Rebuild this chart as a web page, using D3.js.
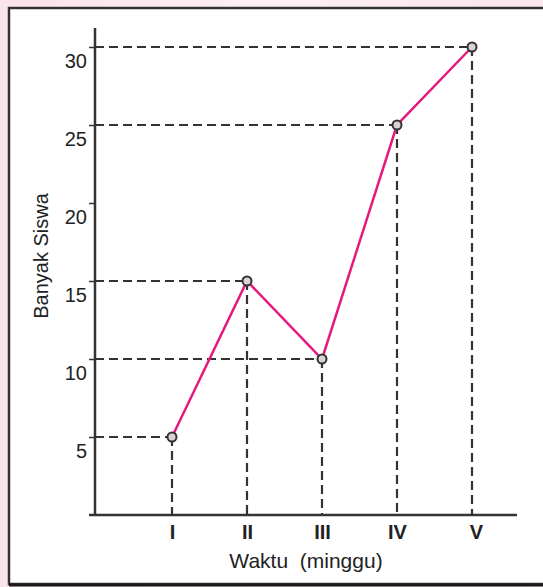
<!doctype html>
<html>
<head>
<meta charset="UTF-8">
<title>Banyak Siswa</title>
<script src="https://d3js.org/d3.v7.min.js"></script>
<style>
  body { margin: 0; background: #fbe8ef; }
  svg { display: block; }
  .axis text { font-family: "Liberation Sans", Arial, sans-serif; fill: #222; }
</style>
</head>
<body>
<svg id="chart" width="543" height="587"></svg>
<script>
// data
var weeks = ["I", "II", "III", "IV", "V"];
var students = [5, 15, 10, 25, 30];
var yTicks = [5, 10, 15, 20, 25, 30];

var svg = d3.select("#chart");

// pink page background with a soft gradient
var defs = svg.append("defs");
var grad = defs.append("linearGradient").attr("id", "bg").attr("x1", 0).attr("x2", 1);
grad.append("stop").attr("offset", "0%").attr("stop-color", "#fbe3ec");
grad.append("stop").attr("offset", "50%").attr("stop-color", "#fdf0f4");
grad.append("stop").attr("offset", "100%").attr("stop-color", "#fbe6ee");
svg.append("rect").attr("width", 543).attr("height", 587).attr("fill", "url(#bg)");

// white frame, right side runs off the picture
svg.append("rect")
    .attr("x", 9).attr("y", 8)
    .attr("width", 560).attr("height", 576)
    .attr("fill", "#fff")
    .attr("stroke", "#333")
    .attr("stroke-width", 2.5);
svg.append("line")
    .attr("x1", 9).attr("x2", 543)
    .attr("y1", 585).attr("y2", 585)
    .attr("stroke", "#1a1a1a").attr("stroke-width", 3);

var x = d3.scalePoint().domain(weeks).range([172, 472]);
var y = d3.scaleLinear().domain([0, 30]).range([515, 47]);
var x0 = 95;

var data = weeks.map(function (w, i) { return { week: w, value: students[i] }; });

// dashed guide lines
var guides = svg.append("g")
    .attr("stroke", "#333")
    .attr("stroke-width", 2.2)
    .attr("stroke-dasharray", "9,5")
    .attr("fill", "none");

guides.selectAll(".h")
    .data(data)
    .enter().append("line")
    .attr("x1", x0)
    .attr("x2", function (d) { return x(d.week); })
    .attr("y1", function (d) { return y(d.value); })
    .attr("y2", function (d) { return y(d.value); });

guides.selectAll(".v")
    .data(data)
    .enter().append("line")
    .attr("x1", function (d) { return x(d.week); })
    .attr("x2", function (d) { return x(d.week); })
    .attr("y1", function (d) { return y(d.value); })
    .attr("y2", y(0));

// y axis
var yAxis = svg.append("g")
    .attr("class", "axis")
    .attr("transform", "translate(" + x0 + ",0)")
    .call(d3.axisLeft(y).tickValues(yTicks).tickSize(6).tickPadding(2));
yAxis.select(".domain").remove();
yAxis.selectAll(".tick line").attr("stroke", "#333").attr("stroke-width", 1.5);
yAxis.selectAll(".tick text")
    .attr("font-size", 20)
    .attr("dy", "1.0em");
svg.append("line")
    .attr("x1", x0).attr("x2", x0)
    .attr("y1", 28).attr("y2", y(0) + 1)
    .attr("stroke", "#333").attr("stroke-width", 2.5);

// x axis
var xAxis = svg.append("g")
    .attr("class", "axis")
    .attr("transform", "translate(0," + y(0) + ")")
    .call(d3.axisBottom(x).tickSize(0).tickPadding(10));
xAxis.select(".domain").remove();
xAxis.selectAll(".tick text")
    .attr("font-size", 20)
    .attr("font-weight", "bold")
    .attr("dx", function (d) { return d === "V" ? 4 : 0; });
svg.append("line")
    .attr("x1", 89).attr("x2", 517)
    .attr("y1", y(0)).attr("y2", y(0))
    .attr("stroke", "#333").attr("stroke-width", 2.5);

// series line
var line = d3.line()
    .x(function (d) { return x(d.week); })
    .y(function (d) { return y(d.value); });

svg.append("path")
    .datum(data)
    .attr("d", line)
    .attr("fill", "none")
    .attr("stroke", "#e5197e")
    .attr("stroke-width", 2.5);

svg.selectAll(".pt")
    .data(data)
    .enter().append("circle")
    .attr("cx", function (d) { return x(d.week); })
    .attr("cy", function (d) { return y(d.value); })
    .attr("r", 4.5)
    .attr("fill", "#dcd2d6")
    .attr("stroke", "#333")
    .attr("stroke-width", 2);

// axis titles
svg.append("text")
    .attr("x", 306).attr("y", 568)
    .attr("text-anchor", "middle")
    .attr("font-family", "Liberation Sans, Arial, sans-serif")
    .attr("font-size", 21)
    .attr("fill", "#222")
    .attr("xml:space", "preserve")
    .text("Waktu  (minggu)");

svg.append("text")
    .attr("transform", "translate(48,256) rotate(-90)")
    .attr("text-anchor", "middle")
    .attr("font-family", "Liberation Sans, Arial, sans-serif")
    .attr("font-size", 20)
    .attr("fill", "#222")
    .text("Banyak Siswa");
</script>
</body>
</html>
